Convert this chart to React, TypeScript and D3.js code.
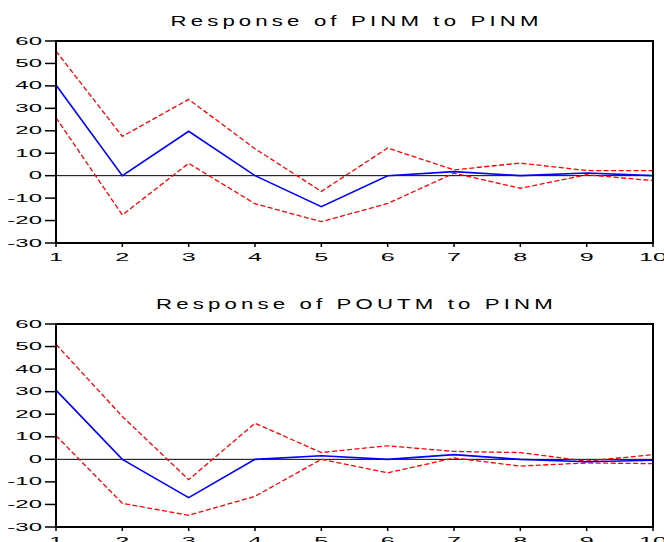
import React from "react";
import * as d3 from "d3";

// impulse responses, period 1..10
const periods = [1, 2, 3, 4, 5, 6, 7, 8, 9, 10];
const yTicks = [60, 50, 40, 30, 20, 10, 0, -10, -20, -30];

const pinmResp = [40.4, 0, 19.8, 0, -13.8, 0, 1.8, 0, 1.2, 0];
const pinmUpper = [55.5, 17.5, 34, 12, -7, 12.3, 2.6, 5.6, 2.3, 2.2];
const pinmLower = [25.8, -17.5, 5.5, -12.5, -20.5, -12.4, 1.1, -5.6, 0.4, -2.2];

const poutmResp = [30.7, 0, -17, 0, 1.6, 0, 2.1, 0, -1.1, -0.4];
const poutmUpper = [51, 19, -9, 16, 3, 6, 3.5, 3, -0.8, 2.1];
const poutmLower = [10.5, -19.5, -24.8, -16.4, 0, -6, 0.6, -3, -1.6, -1.9];

const W = 664, H = 542;
const FONT = "'Liberation Sans', Arial, sans-serif";

const x = d3.scaleLinear().domain([1, 10]).range([56, 653]);

type PanelProps = {
  title: string;
  top: number;
  bottom: number;
  resp: number[];
  upper: number[];
  lower: number[];
};

const Panel = ({ title, top, bottom, resp, upper, lower }: PanelProps) => {
  const y = d3.scaleLinear().domain([-30, 60]).range([bottom, top]);
  const line = (vals: number[]) =>
    d3.line<number>().x((_, i) => x(periods[i])).y(d => y(d))(vals) || "";
  const [x0, x1] = x.range();
  const sx = 2.4;

  return (
    <g>
      {/* title */}
      <g transform={`translate(${(x0 + x1) / 2 + 2},${top - 15}) scale(1.48,1)`}>
        <text
          textAnchor="middle"
          fontSize={15}
          fontFamily={FONT}
          letterSpacing={2.8}
          fill="#000"
        >
          {title}
        </text>
      </g>

      {/* zero line */}
      <line x1={x0} x2={x1} y1={y(0)} y2={y(0)} stroke="#000" strokeWidth={1} />

      {/* bands and response */}
      <path d={line(upper)} fill="none" stroke="#ff0000" strokeWidth={1.3} strokeDasharray="5,2.5" />
      <path d={line(lower)} fill="none" stroke="#ff0000" strokeWidth={1.3} strokeDasharray="5,2.5" />
      <path d={line(resp)} fill="none" stroke="#0000ff" strokeWidth={1.6} />

      {/* frame */}
      <rect x={x0} y={top} width={x1 - x0} height={bottom - top} fill="none" stroke="#000" strokeWidth={2} />

      {/* y axis */}
      {yTicks.map(t => (
        <g key={t}>
          <line x1={x0 - 11} x2={x0} y1={y(t)} y2={y(t)} stroke="#000" strokeWidth={1.5} />
          <g transform={`translate(${x0 - 14},${y(t) + 3.6}) scale(${sx},1)`}>
            <text textAnchor="end" fontSize={10} fontFamily={FONT} fill="#000">
              {t}
            </text>
          </g>
        </g>
      ))}

      {/* x axis */}
      {periods.map(p => (
        <g key={p}>
          <line x1={x(p)} x2={x(p)} y1={bottom} y2={bottom + 4} stroke="#000" strokeWidth={1.5} />
          <g transform={`translate(${x(p)},${bottom + 18}) scale(${sx},1)`}>
            <text textAnchor="middle" fontSize={10.5} fontFamily={FONT} fill="#000">
              {p}
            </text>
          </g>
        </g>
      ))}
    </g>
  );
};

export default function App() {
  return (
    <svg
      width={W}
      height={H}
      style={{ position: "absolute", left: 0, top: 0, display: "block", background: "#fff" }}
    >
      <Panel title="Response of PINM to PINM" top={41} bottom={243}
        resp={pinmResp} upper={pinmUpper} lower={pinmLower} />
      <Panel title="Response of POUTM to PINM" top={324} bottom={527}
        resp={poutmResp} upper={poutmUpper} lower={poutmLower} />
    </svg>
  );
}
